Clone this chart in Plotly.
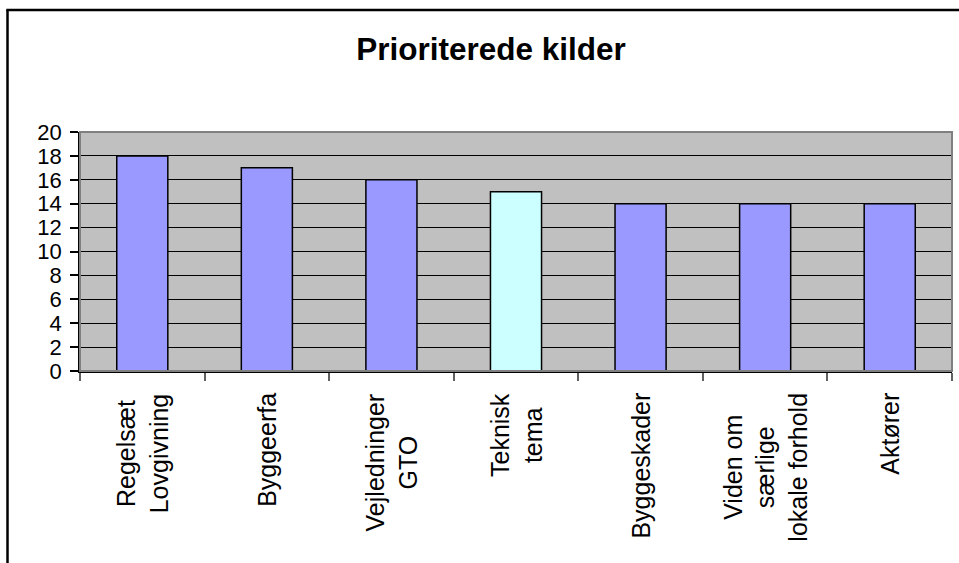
import plotly.graph_objects as go

title = "Prioriterede kilder"
categories = ["Regelsæt<br>Lovgivning", "Byggeerfa", "Vejledninger<br>GTO", "Teknisk<br>tema",
              "Byggeskader", "Viden om<br>særlige<br>lokale forhold", "Aktører"]
values = [18, 17, 16, 15, 14, 14, 14]
bar_colors = ["#9999FF", "#9999FF", "#9999FF", "#CCFFFF", "#9999FF", "#9999FF", "#9999FF"]
y_ticks = list(range(0, 21, 2))

W, H = 959, 563
L, R, T, B = 80, 7, 131.5, 192.3
pw, ph = W - L - R, H - T - B

def px(x):
    return (x - L) / pw

def py(y):
    return (H - B - y) / ph

FONT = "Arial, Liberation Sans, sans-serif"

fig = go.Figure()
fig.add_trace(go.Bar(
    x=categories, y=values,
    marker=dict(color=bar_colors, line=dict(color="black", width=1.5)),
    width=0.41,
))

annotations = []
for c in categories:
    annotations.append(dict(
        x=c, xref="x", y=0, yref="paper", yshift=-20,
        text=c, textangle=-90, showarrow=False,
        xanchor="center", yanchor="top", align="center",
        font=dict(family=FONT, size=25, color="black"),
    ))

shapes = [
    # plot area border (gray, top & right)
    dict(type="rect", xref="paper", yref="paper", x0=0, x1=1, y0=0, y1=1,
         line=dict(color="#808080", width=2), layer="above"),
    # outer chart border (left & top visible)
    dict(type="line", xref="paper", yref="paper", x0=px(7.5), x1=px(7.5), y0=py(9.5), y1=py(570),
         line=dict(color="black", width=2.5)),
    dict(type="line", xref="paper", yref="paper", x0=px(6.3), x1=px(970), y0=py(9.5), y1=py(9.5),
         line=dict(color="black", width=2.5)),
]

fig.update_layout(
    width=W, height=H,
    margin=dict(l=L, r=R, t=T, b=B),
    paper_bgcolor="white", plot_bgcolor="#C0C0C0",
    showlegend=False,
    title=dict(text=f"<b>{title}</b>", x=491 / W, xref="container", xanchor="center",
               y=1 - 49 / H, yref="container", yanchor="middle",
               font=dict(family=FONT, size=31.5, color="black")),
    annotations=annotations,
    shapes=shapes,
    xaxis=dict(
        type="category", showticklabels=False, tickson="boundaries",
        ticks="outside", ticklen=8, tickcolor="#606060", tickwidth=1.5,
        showline=True, linecolor="black", linewidth=1.5,
        showgrid=False, range=[-0.5, 6.5], fixedrange=True,
    ),
    yaxis=dict(
        range=[0, 20], tickvals=y_ticks, ticktext=[str(v) for v in y_ticks],
        ticks="outside", ticklen=8, tickcolor="black", tickwidth=1.5,
        showline=True, linecolor="black", linewidth=1.5,
        showgrid=True, gridcolor="black", gridwidth=1,
        zeroline=False, ticklabelstandoff=4,
        tickfont=dict(family=FONT, size=22, color="black"),
    ),
)

fig.write_html("out.html", config={"displayModeBar": False},
               post_script="document.body.style.margin='0';document.body.style.overflow='hidden';")
